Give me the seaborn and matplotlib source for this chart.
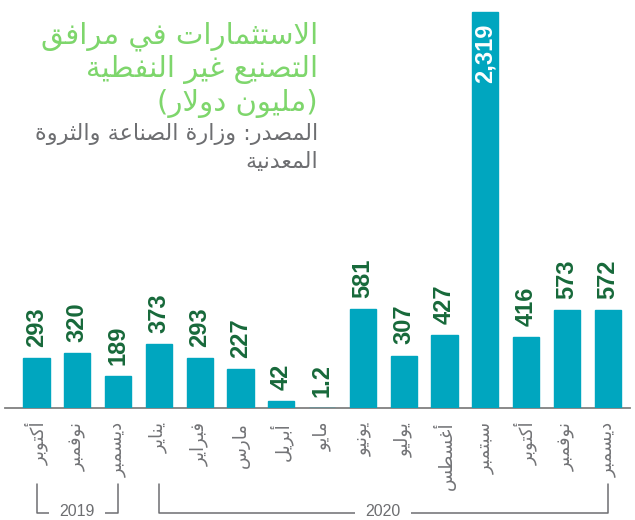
import matplotlib
matplotlib.use("Agg")
import matplotlib.pyplot as plt
import matplotlib.transforms as mtransforms
from matplotlib import font_manager
import seaborn as sns
import pandas as pd

# ---------------- data ----------------
months = ["أكتوبر", "نوفمبر", "ديسمبر", "يناير", "فبراير", "مارس", "أبريل", "مايو",
          "يونيو", "يوليو", "أغسطس", "سبتمبر", "أكتوبر", "نوفمبر", "ديسمبر"]
values = [293, 320, 189, 373, 293, 227, 42, 1.2, 581, 307, 427, 2319, 416, 573, 572]
value_labels = ["293", "320", "189", "373", "293", "227", "42", "1.2", "581", "307",
                "427", "2,319", "416", "573", "572"]
years = ["2019", "2020"]
year_first = [0, 3]
year_last = [2, 14]
title_lines = ["الاستثمارات في مرافق", "التصنيع غير النفطية", "(مليون دولار)"]
source_lines = ["المصدر: وزارة الصناعة والثروة", "المعدنية"]

# ---------------- Arabic shaping (presentation forms + visual order) ----------------
DUAL = {"\u0626": 0xFE89, "\u0628": 0xFE8F, "\u062A": 0xFE95, "\u062B": 0xFE99,
        "\u062C": 0xFE9D, "\u062D": 0xFEA1, "\u062E": 0xFEA5, "\u0633": 0xFEB1,
        "\u0634": 0xFEB5, "\u0635": 0xFEB9, "\u0636": 0xFEBD, "\u0637": 0xFEC1,
        "\u0638": 0xFEC5, "\u0639": 0xFEC9, "\u063A": 0xFECD, "\u0641": 0xFED1,
        "\u0642": 0xFED5, "\u0643": 0xFED9, "\u0644": 0xFEDD, "\u0645": 0xFEE1,
        "\u0646": 0xFEE5, "\u0647": 0xFEE9, "\u064A": 0xFEF1}
RIGHT = {"\u0622": 0xFE81, "\u0623": 0xFE83, "\u0624": 0xFE85, "\u0625": 0xFE87,
         "\u0627": 0xFE8D, "\u0629": 0xFE93, "\u062F": 0xFEA9, "\u0630": 0xFEAB,
         "\u0631": 0xFEAD, "\u0632": 0xFEAF, "\u0648": 0xFEED, "\u0649": 0xFEEF}
LAMALEF = {"\u0622": 0xFEF5, "\u0623": 0xFEF7, "\u0625": 0xFEF9, "\u0627": 0xFEFB}
MIRROR = {"(": ")", ")": "(", "[": "]", "]": "["}


def shape(text):
    units = []
    i = 0
    while i < len(text):
        c = text[i]
        if c == "\u0644" and i + 1 < len(text) and text[i + 1] in LAMALEF:
            units.append(("LA", text[i + 1]))
            i += 2
        else:
            units.append((c, None))
            i += 1

    def arabic(u):
        return u is not None and (u[0] == "LA" or u[0] in DUAL or u[0] in RIGHT)

    out = []
    for k, u in enumerate(units):
        prev = units[k - 1] if k > 0 else None
        nxt = units[k + 1] if k + 1 < len(units) else None
        cp = prev is not None and prev[0] in DUAL
        if u[0] == "LA":
            base = LAMALEF[u[1]]
            out.append(chr(base + (1 if cp else 0)))
        elif u[0] in DUAL:
            cn = arabic(nxt)
            base = DUAL[u[0]]
            off = 3 if (cp and cn) else 1 if cp else 2 if cn else 0
            out.append(chr(base + off))
        elif u[0] in RIGHT:
            out.append(chr(RIGHT[u[0]] + (1 if cp else 0)))
        else:
            out.append(u[0])
    # visual order: reverse, keeping digit runs LTR, mirror brackets
    runs, cur, cur_ltr = [], "", None
    for ch in out:
        ltr = ch.isdigit() or ch in ",."
        if cur and ltr != cur_ltr:
            runs.append((cur, cur_ltr))
            cur = ""
        cur += ch
        cur_ltr = ltr
    if cur:
        runs.append((cur, cur_ltr))
    vis = ""
    for r, ltr in reversed(runs):
        vis += r if ltr else "".join(MIRROR.get(c, c) for c in reversed(r))
    return vis


def pick(cands):
    for c in cands:
        try:
            font_manager.findfont(font_manager.FontProperties(family=c),
                                  fallback_to_default=False)
            return c
        except Exception:
            pass
    return "DejaVu Sans"


NUMFONT = pick(["Liberation Sans", "DejaVu Sans"])
YEARFONT = pick(["Liberation Sans", "DejaVu Sans"])

# ---------------- styling ----------------
TEAL = "#00a6bf"
DKGREEN = "#17693a"
LTGREEN = "#7ed66c"
GRAY = "#6d6e71"

sns.set_style("white")
plt.rcParams["font.family"] = ["DejaVu Sans"]

W, H = 635, 520
fig = plt.figure(figsize=(W / 100, H / 100), dpi=100)

base_px = 408
left_px, right_px = 5, 630
c0, step = 36.5, 40.8
ax = fig.add_axes([left_px / W, (H - base_px) / H, (right_px - left_px) / W, base_px / H])

df = pd.DataFrame({"idx": [str(i) for i in range(len(values))], "value": values})
sns.barplot(data=df, x="idx", y="value", order=df["idx"].tolist(), color=TEAL,
            saturation=1, width=0.645, edgecolor=TEAL, linewidth=1.0, zorder=3, ax=ax)

ax.set_xlim((left_px - c0) / step, (right_px - c0) / step)
px_per_unit = 50 / 293
ax.set_ylim(0, base_px / px_per_unit)

for s in ["top", "right", "left"]:
    ax.spines[s].set_visible(False)
ax.spines["bottom"].set_color("#808080")
ax.spines["bottom"].set_linewidth(1.3)
ax.set_yticks([])
ax.set_xlabel("")
ax.set_ylabel("")
ax.set_xticks(range(len(months)))
ax.set_xticklabels([shape(m) for m in months], rotation=90, fontsize=13, color="#737477")
ax.tick_params(axis="x", length=0, pad=10)

# value labels
for i, (v, lab) in enumerate(zip(values, value_labels)):
    if v > 2000:
        ax.annotate(lab, (i, v), xytext=(0, -8), textcoords="offset points",
                    rotation=90, ha="center", va="top", color="white",
                    fontsize=17, fontweight="bold", family=NUMFONT)
    else:
        ax.annotate(lab, (i, v), xytext=(0, 8), textcoords="offset points",
                    rotation=90, ha="center", va="bottom", color=DKGREEN,
                    fontsize=17, fontweight="bold", family=NUMFONT)

# year brackets
trans = mtransforms.blended_transform_factory(ax.transData, fig.transFigure)
y_top = 1 - 484 / H
y_bot = 1 - 513 / H
for yr, a, b in zip(years, year_first, year_last):
    ax.plot([a, a, b, b], [y_top, y_bot, y_bot, y_top], transform=trans,
            color=GRAY, lw=1.1, clip_on=False)
    ax.text((a + b) / 2, 1 - 512 / H, yr, transform=trans, ha="center", va="center",
            fontsize=11.5, color=GRAY, family=YEARFONT,
            bbox=dict(facecolor="white", edgecolor="none", pad=7.5))

# title and source
title_x = 318 / W
for line, yb in zip(title_lines, [43, 77, 111]):
    fig.text(title_x, 1 - yb / H, shape(line), ha="right", va="baseline",
             fontsize=21, color=LTGREEN)
for line, yb in zip(source_lines, [140, 168]):
    fig.text(title_x, 1 - yb / H, shape(line), ha="right", va="baseline",
             fontsize=16, color=GRAY)

fig.savefig("out.png", dpi=100)
